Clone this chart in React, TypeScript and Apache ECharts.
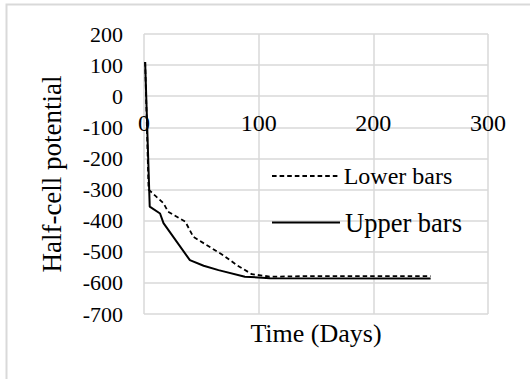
import React, { useEffect, useRef } from "react";
import * as echarts from "echarts";

const xTicks = [0, 100, 200, 300];
const yTicks = [-700, -600, -500, -400, -300, -200, -100, 0, 100, 200];
const lowerDays = [1, 4, 17, 21, 36, 43, 69, 81, 94, 110, 150, 250];
const lowerValues = [110, -300, -344, -371, -403, -452, -511, -543, -572, -580, -578, -578];
const upperDays = [1, 5, 14, 17, 40, 52, 65, 88, 110, 250];
const upperValues = [110, -355, -377, -408, -527, -545, -559, -580, -585, -586];
const seriesNames = ["Lower bars", "Upper bars"];

const FONT = "Liberation Serif";

function dashedIcon(): string {
  let d = "path://";
  for (let i = 0; i < 9; i++) {
    const x = i * 7.6;
    d += `M${x},0h4.6v2h-4.6z`;
  }
  return d;
}

export default function App() {
  const ref = useRef<HTMLDivElement>(null);
  useEffect(() => {
    document.body.style.margin = "0";
    if (!ref.current) return;
    const chart = echarts.init(ref.current, null, { renderer: "svg" });
    const lower = lowerDays.map((d, i) => [d, lowerValues[i]]);
    const upper = upperDays.map((d, i) => [d, upperValues[i]]);
    const yMin = yTicks[0];
    const yMax = yTicks[yTicks.length - 1];
    chart.setOption({
      animation: false,
      backgroundColor: "#ffffff",
      textStyle: { fontFamily: FONT, color: "#000" },
      grid: { left: 144, top: 34, right: 42, height: 280, containLabel: false, outerBoundsMode: "none" },
      legend: [
        {
          data: [{ name: seriesNames[0], icon: dashedIcon() }],
          left: 272,
          top: 164,
          padding: 0,
          itemWidth: 68,
          itemHeight: 2,
          itemGap: 7,
          textStyle: { fontFamily: FONT, fontSize: 24, color: "#000" },
        },
        {
          data: [{ name: seriesNames[1], icon: "rect" }],
          left: 272,
          top: 209,
          padding: 0,
          itemWidth: 68,
          itemHeight: 2,
          itemGap: 7,
          textStyle: { fontFamily: FONT, fontSize: 26.5, color: "#000" },
        },
      ],
      xAxis: {
        type: "value",
        min: xTicks[0],
        max: xTicks[xTicks.length - 1],
        interval: 100,
        position: "bottom",
        name: "Time (Days)",
        nameLocation: "middle",
        nameGap: 6,
        nameTextStyle: { fontFamily: FONT, fontSize: 26, color: "#000" },
        axisLine: { show: false, onZero: false },
        axisTick: { show: false },
        axisLabel: { show: false },
        splitLine: { show: true, lineStyle: { color: "#d9d9d9", width: 1.5 } },
      },
      yAxis: {
        type: "value",
        min: yMin,
        max: yMax,
        interval: 100,
        name: "Half-cell potential",
        nameLocation: "middle",
        nameGap: 79,
        nameTextStyle: { fontFamily: FONT, fontSize: 27, color: "#000" },
        axisLine: { show: false },
        axisTick: { show: false },
        axisLabel: { show: false },
        splitLine: { show: true, lineStyle: { color: "#d9d9d9", width: 1.5 } },
      },
      series: [
        {
          name: seriesNames[0],
          type: "line",
          data: lower,
          symbol: "none",
          lineStyle: { color: "#000", width: 1.8, type: [4.5, 3] },
          itemStyle: { color: "#000" },
        },
        {
          name: seriesNames[1],
          type: "line",
          data: upper,
          symbol: "none",
          lineStyle: { color: "#000", width: 2 },
          itemStyle: { color: "#000" },
        },
      ],
    });

    // tick labels placed through the library's own scales
    const px = (v: number) => chart.convertToPixel({ xAxisIndex: 0 }, v) as number;
    const py = (v: number) => chart.convertToPixel({ yAxisIndex: 0 }, v) as number;
    const leftX = px(xTicks[0]);
    const zeroY = py(0);
    const elements: any[] = [
      {
        type: "rect",
        id: "border",
        shape: { x: 6.5, y: 4.5, width: 700, height: 700 },
        style: { fill: "none", stroke: "#d9d9d9", lineWidth: 2 },
        silent: true,
      },
    ];
    yTicks.forEach((v) => {
      elements.push({
        type: "text",
        x: leftX - 21,
        y: py(v),
        silent: true,
        style: {
          text: String(v),
          fontFamily: FONT,
          fontSize: 22,
          fill: "#000",
          align: "right",
          verticalAlign: "middle",
        },
      });
    });
    xTicks.forEach((v) => {
      elements.push({
        type: "text",
        x: px(v),
        y: zeroY + 15,
        silent: true,
        style: {
          text: String(v),
          fontFamily: FONT,
          fontSize: 24,
          fill: "#000",
          align: "center",
          verticalAlign: "top",
        },
      });
    });
    chart.setOption({ graphic: elements });
    return () => chart.dispose();
  }, []);
  return (
    <div
      ref={ref}
      style={{ position: "absolute", left: 0, top: 0, width: 530, height: 379 }}
    />
  );
}
